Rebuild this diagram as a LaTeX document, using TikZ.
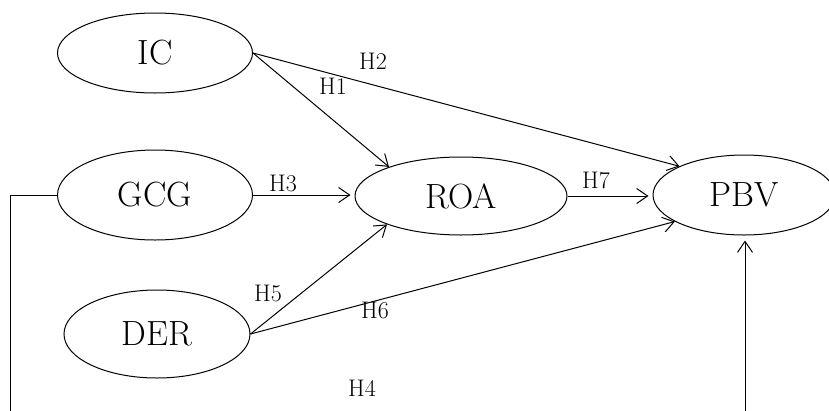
\documentclass[tikz,border=0pt]{standalone}
\usepackage{fontspec}
\usetikzlibrary{shapes.geometric,arrows.meta}
\begin{document}
\begin{tikzpicture}[x=1pt,y=-1pt,
  var/.style={draw,ellipse,line width=1pt,inner sep=0pt,font=\fontsize{35}{35}\selectfont},
  arr/.style={line width=1pt,-{Straight Barb[length=11pt,width=15pt,line width=1pt]}},
  lbl/.style={font=\fontsize{24}{24}\selectfont,inner sep=0pt}]
\useasboundingbox (0,0) rectangle (829,410);
\node[var,minimum width=195pt,minimum height=80pt] (IC) at (155,53) {IC};
\node[var,minimum width=195pt,minimum height=90pt] (GCG) at (155,195) {GCG};
\node[var,minimum width=186pt,minimum height=88pt] (DER) at (157,334) {DER};
\node[var,minimum width=212pt,minimum height=78pt] (ROA) at (461,196) {ROA};
\node[var,minimum width=182pt,minimum height=80pt] (PBV) at (744,195) {PBV};
\coordinate (b1) at (10,412);
\coordinate (b2) at (745,412);
\draw[arr] (IC.east) -- (ROA.158);
\draw[arr] (IC.east) -- (PBV.156);
\draw[arr] (GCG.east) -- ([xshift=-4pt]GCG.east -| ROA.west);
\draw[arr] (ROA.east) -- ([xshift=-4pt]ROA.east -| PBV.west);
\draw[arr] (DER.east) -- (ROA.201);
\draw[arr] (DER.east) -- (PBV.201);
\draw[arr,shorten >=5pt] (b2) -- (b2 |- PBV.south);
\draw[line width=1pt] (GCG.west) -| (b1);
\node[lbl] (h2) at (373,61) {H2};
\node[lbl] (h1) at (333,86) {H1};
\node[lbl] (h3) at (283,183) {H3};
\node[lbl] (h7) at (596,180) {H7};
\node[lbl] (h5) at (268,293) {H5};
\node[lbl] (h6) at (375,310) {H6};
\node[lbl] (h4) at (362,388) {H4};
\end{tikzpicture}
\end{document}
